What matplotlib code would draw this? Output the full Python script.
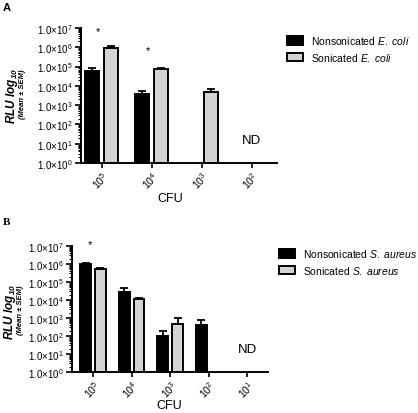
import numpy as np
import matplotlib
matplotlib.use("Agg")
import matplotlib.pyplot as plt
from matplotlib.patches import Patch
from matplotlib.ticker import LogLocator, NullFormatter

plt.rcParams['font.family'] = ['Liberation Sans', 'DejaVu Sans']
plt.rcParams['mathtext.fontset'] = 'custom'
plt.rcParams['mathtext.rm'] = 'Liberation Sans'
plt.rcParams['mathtext.it'] = 'Liberation Sans:italic'
plt.rcParams['mathtext.bf'] = 'Liberation Sans:bold'
plt.rcParams['mathtext.bfit'] = 'Liberation Sans:bold:italic'

# ---------------- data ----------------
cfu_a = ["10$^{5}$", "10$^{4}$", "10$^{3}$", "10$^{2}$"]
nonson_ecoli = [5.9e4, 3.7e3, np.nan, np.nan]
nonson_ecoli_sem = [2.5e4, 1.8e3, 0, 0]
son_ecoli = [9.0e5, 7.1e4, 5.0e3, np.nan]
son_ecoli_sem = [2.0e5, 1.2e4, 1.7e3, 0]
stars_a = [0, 1]

cfu_b = ["10$^{5}$", "10$^{4}$", "10$^{3}$", "10$^{2}$", "10$^{1}$"]
nonson_saureus = [1.0e6, 2.9e4, 98, 400, np.nan]
nonson_saureus_sem = [1.5e5, 1.5e4, 92, 380, 0]
son_saureus = [5.6e5, 1.1e4, 490, np.nan, np.nan]
son_saureus_sem = [6.0e4, 1.2e3, 470, 0, 0]
stars_b = [0]

W, H = 418, 414
fig = plt.figure(figsize=(W / 100, H / 100), dpi=100)


def fx(px):
    return px / W


def fy(py):
    return 1 - py / H


def panel(rect_px, cats, black, black_sem, grey, grey_sem, stars, star_y,
          xlim, nd_pos, labels, leg_px, cfu_px, ylab_px, letter, letter_px):
    l, t, r, b = rect_px
    ax = fig.add_axes([fx(l), fy(b), fx(r - l), (b - t) / H])
    x = np.arange(len(cats))
    off, wid = 0.19, 0.28
    bb = np.nan_to_num(np.array(black, float), nan=0)
    gg = np.nan_to_num(np.array(grey, float), nan=0)
    ax.set_yscale('log')
    ax.bar(x - off, bb, wid, color='black', edgecolor='black', linewidth=1.4, zorder=2)
    ax.bar(x + off, gg, wid, color='#d3d3d3', edgecolor='black', linewidth=1.4, zorder=2)
    mb = ~np.isnan(np.array(black, float))
    mg = ~np.isnan(np.array(grey, float))
    ax.errorbar((x - off)[mb], np.array(black)[mb],
                yerr=[np.zeros(mb.sum()), np.array(black_sem)[mb]],
                fmt='none', ecolor='black', elinewidth=1.3, capsize=3, capthick=1.3, zorder=1)
    ax.errorbar((x + off)[mg], np.array(grey)[mg],
                yerr=[np.zeros(mg.sum()), np.array(grey_sem)[mg]],
                fmt='none', ecolor='black', elinewidth=1.3, capsize=3, capthick=1.3, zorder=1)
    for s, sy in zip(stars, star_y):
        ax.text(s - 0.08, sy, '*', ha='center', va='center', fontsize=8, clip_on=False)
    ax.set_ylim(1, 1e7)
    ax.set_xlim(*xlim)
    ax.set_yticks([10.0 ** k for k in range(8)])
    ax.set_yticklabels([r"1.0$\times$10$^{%d}$" % k for k in range(8)], fontsize=7)
    ax.yaxis.set_minor_locator(LogLocator(base=10, subs=np.arange(2, 10), numticks=20))
    ax.yaxis.set_minor_formatter(NullFormatter())
    ax.tick_params(axis='y', which='major', length=4, width=1.2, pad=2)
    ax.tick_params(axis='y', which='minor', length=2.5, width=0.8)
    ax.set_xticks(x)
    ax.set_xticklabels(cats, rotation=45, ha='right', rotation_mode='anchor', fontsize=7.5)
    ax.tick_params(axis='x', length=3.5, width=1.2, pad=1)
    for sp in ['top', 'right']:
        ax.spines[sp].set_visible(False)
    for sp in ['left', 'bottom']:
        ax.spines[sp].set_linewidth(1.4)
    ax.text(nd_pos[0], nd_pos[1], 'ND', ha='center', va='center', fontsize=9.5)
    fig.text(fx(cfu_px[0]), fy(cfu_px[1]), 'CFU', ha='center', va='center', fontsize=9)
    handles = [Patch(facecolor='black', edgecolor='black', linewidth=1.4),
               Patch(facecolor='#d3d3d3', edgecolor='black', linewidth=1.4)]
    fig.legend(handles, labels, loc='upper left',
               bbox_to_anchor=(fx(leg_px[0]), fy(leg_px[1])), frameon=False,
               fontsize=7.5, handlelength=1.5, handleheight=0.9, handletextpad=0.8,
               labelspacing=0.45, borderaxespad=0, borderpad=0)
    fig.text(fx(ylab_px[0]), fy(ylab_px[1]), r"RLU log$_{\mathbfit{10}}$",
             rotation=90, ha='center', va='center', fontsize=8.5,
             fontweight='bold', style='italic')
    fig.text(fx(ylab_px[0] + 10), fy(ylab_px[1] - 2), "(Mean \u00b1 SEM)",
             rotation=90, ha='center', va='center', fontsize=5.5,
             fontweight='bold', style='italic')
    fig.text(fx(letter_px[0]), fy(letter_px[1]), letter, ha='left', va='center',
             fontsize=8, fontweight='bold', family=['Liberation Serif'] if letter == 'B' else None)
    return ax


panel((81, 29, 277, 164), cfu_a, nonson_ecoli, nonson_ecoli_sem, son_ecoli, son_ecoli_sem,
      stars_a, [10 ** 6.83, 10 ** 5.83], (-0.41, 3.5), (3, 10 ** 1.2),
      [r"Nonsonicated $\it{E.\ coli}$", r"Sonicated $\it{E.\ coli}$"],
      (287, 35), (170, 199), (12, 96), 'A', (3, 8))

panel((72, 247, 268, 373), cfu_b, nonson_saureus, nonson_saureus_sem, son_saureus, son_saureus_sem,
      stars_b, [10 ** 7.1], (-0.55, 4.54), (4, 10 ** 1.28),
      [r"Nonsonicated $\it{S.\ aureus}$", r"Sonicated $\it{S.\ aureus}$"],
      (279, 248), (169, 406), (10, 312), 'B', (3, 223))

fig.savefig('out.png', dpi=100)
